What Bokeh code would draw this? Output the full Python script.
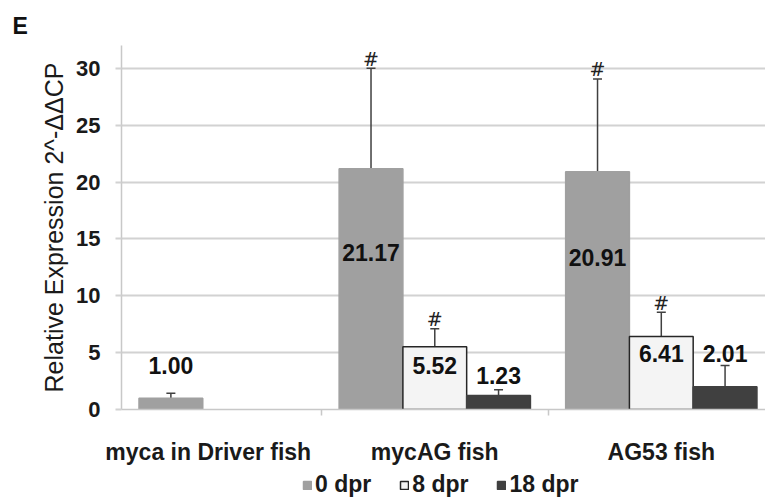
from bokeh.plotting import figure
from bokeh.layouts import column
from bokeh.models import (ColumnDataSource, Range1d, FixedTicker, Whisker, TeeHead,
                          Legend, LegendItem)
from bokeh.core.properties import value
from bokeh.embed import file_html
from bokeh.resources import INLINE

# ---- data ----
categories = ["myca in Driver fish", "mycAG fish", "AG53 fish"]
series = ["0 dpr", "8 dpr", "18 dpr"]
values_0dpr = [1.00, 21.17, 20.91]
values_8dpr = [None, 5.52, 6.41]
values_18dpr = [None, 1.23, 2.01]
err_0dpr = [0.42, 8.83, 8.15]
err_8dpr = [None, 1.57, 2.14]
err_18dpr = [None, 0.50, 1.86]
sig_0dpr = ["", "#", "#"]
sig_8dpr = ["", "#", "#"]
sig_18dpr = ["", "", ""]
y_ticks = [0, 5, 10, 15, 20, 25, 30]

# ---- layout / style (not data) ----
label_pos = {"0 dpr": [3.87, 13.8, 13.36],
             "8 dpr": [None, 3.87, 4.92],
             "18 dpr": [None, 3.0, 4.92]}
sig_pad = 0.85           # gap between error cap and '#', in axis units
series_offset = [-0.2815, 0.0, 0.2815]
lone_offset = -0.165
bar_w = 0.2815
fills = ["#a0a0a0", "#f4f4f4", "#404040"]
lines = ["#a0a0a0", "#262626", "#404040"]
FONT = "Liberation Sans"
TXT = "#1a1a1a"

all_vals = [values_0dpr, values_8dpr, values_18dpr]
all_errs = [err_0dpr, err_8dpr, err_18dpr]
all_sigs = [sig_0dpr, sig_8dpr, sig_18dpr]

p = figure(width=765, height=468, x_range=Range1d(0.117, 2.96), y_range=Range1d(0, 32),
           output_backend="svg", toolbar_location=None, title="E",
           min_border_left=121, min_border_right=0, min_border_top=45, min_border_bottom=59)
p.outline_line_color = None
p.background_fill_color = "white"
p.xgrid.visible = False
p.ygrid.grid_line_color = "#d2d2d2"
p.ygrid.grid_line_width = 2

p.title.text_font = FONT
p.title.text_font_size = "23px"
p.title.text_font_style = "bold"
p.title.text_color = "#111111"
p.title.align = "left"
p.title.offset = -109
p.title.standoff = 14

# y axis
p.yaxis.ticker = FixedTicker(ticks=y_ticks)
p.yaxis.axis_label = "Relative Expression 2^-ΔΔCP"
p.yaxis.axis_label_text_font = FONT
p.yaxis.axis_label_text_font_size = "25px"
p.yaxis.axis_label_text_font_style = "normal"
p.yaxis.axis_label_text_color = TXT
p.yaxis.axis_label_standoff = 5
p.yaxis.major_label_text_font = FONT
p.yaxis.major_label_text_font_size = "22px"
p.yaxis.major_label_text_font_style = "bold"
p.yaxis.major_label_text_color = TXT
p.yaxis.major_label_standoff = 15
p.yaxis.axis_line_color = "#c8c8c8"
p.yaxis.axis_line_width = 1.5
p.yaxis.major_tick_line_color = "#d2d2d2"
p.yaxis.major_tick_line_width = 2
p.yaxis.major_tick_out = 6
p.yaxis.major_tick_in = 0
p.yaxis.minor_tick_line_color = None

# x axis (categories)
p.xaxis.ticker = FixedTicker(ticks=[i + 0.5 for i in range(len(categories))],
                             minor_ticks=[i for i in range(1, len(categories))])
p.xaxis.major_label_overrides = {i + 0.5: c for i, c in enumerate(categories)}
p.xaxis.major_label_text_font = FONT
p.xaxis.major_label_text_font_size = "23px"
p.xaxis.major_label_text_font_style = "bold"
p.xaxis.major_label_text_color = TXT
p.xaxis.major_label_standoff = 23
p.xaxis.major_tick_line_color = None
p.xaxis.major_tick_out = 0
p.xaxis.major_tick_in = 0
p.xaxis.minor_tick_line_color = "#c8c8c8"
p.xaxis.minor_tick_line_width = 1.5
p.xaxis.minor_tick_out = 6
p.xaxis.minor_tick_in = 0
p.xaxis.axis_line_color = "#c8c8c8"
p.xaxis.axis_line_width = 1.5

n_present = [sum(1 for v in all_vals if v[i] is not None) for i in range(len(categories))]

sources = []
for k, s in enumerate(series):
    xs, tops, ups, sigy, sigs, labs, lys = [], [], [], [], [], [], []
    for i, v in enumerate(all_vals[k]):
        if v is None:
            continue
        off = series_offset[k] if n_present[i] > 1 else lone_offset
        xs.append(i + 0.5 + off)
        tops.append(v)
        ups.append(v + all_errs[k][i])
        sigy.append(v + all_errs[k][i] + sig_pad)
        sigs.append(all_sigs[k][i])
        labs.append(f"{v:.2f}")
        lys.append(label_pos[s][i])
    src = ColumnDataSource(dict(x=xs, top=tops, upper=ups, sigy=sigy, sig=sigs,
                                lab=labs, ly=lys))
    sources.append(src)
    p.vbar(x="x", top="top", bottom=0, width=bar_w, source=src,
           fill_color=fills[k], line_color=lines[k], line_width=1.5)
    w = Whisker(base="x", lower="top", upper="upper", source=src, dimension="height",
                line_color="#404040", line_width=1.5, lower_head=None,
                upper_head=TeeHead(size=9, line_color="#404040", line_width=1.5))
    p.add_layout(w)
    p.text(x="x", y="sigy", text="sig", source=src, text_font=value("DejaVu Sans"),
           text_font_size="19px", text_align="center", text_baseline="alphabetic",
           text_color="#222222")
    p.text(x="x", y="ly", text="lab", source=src, text_font=value(FONT),
           text_font_size="23px", text_font_style="bold", text_align="center",
           text_baseline="middle", text_color="#111111")

# ---- legend strip below the chart (its bars are muted to invisibility) ----
lg = figure(width=765, height=30, x_range=Range1d(0, 1), y_range=Range1d(0, 1),
            output_backend="svg", toolbar_location=None,
            x_axis_location=None, y_axis_location=None, min_border=0)
lg.outline_line_color = None
lg.grid.visible = False
items = []
for k, s in enumerate(series):
    r = lg.vbar(x="x", top="top", width=bar_w, source=sources[k],
                fill_color=fills[k], line_color=lines[k], line_width=1.5,
                muted_alpha=0)
    r.muted = True
    items.append(LegendItem(label=s, renderers=[r]))
legend = Legend(items=items, orientation="horizontal", location=(181, 0),
                glyph_width=10, glyph_height=10, label_standoff=3, spacing=28,
                padding=0, margin=0, border_line_color=None, background_fill_alpha=0,
                label_text_font=FONT, label_text_font_size="23px",
                label_text_font_style="bold", label_text_color=TXT)
lg.add_layout(legend, "center")

layout = column(p, lg, spacing=0)
open("out.html", "w").write(file_html(layout, INLINE))
